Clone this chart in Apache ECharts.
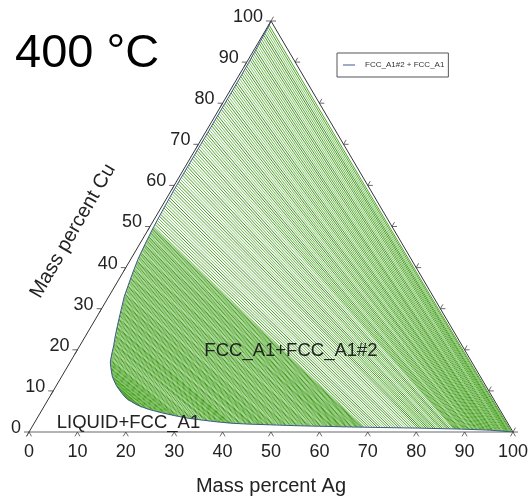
<!DOCTYPE html>
<html>
<head>
<meta charset="utf-8">
<script src="https://cdn.jsdelivr.net/npm/echarts@6/dist/echarts.min.js"></script>
<style>html,body{margin:0;padding:0;background:#fff}#chart{width:531px;height:501px}</style>
</head>
<body>
<div id="chart"></div>
<script>
// ---------------- DATA (mass percent) ----------------
const chartTitle = '400 °C';
const xAxisName = 'Mass percent Ag';
const leftAxisName = 'Mass percent Cu';
const legendName = 'FCC_A1#2 + FCC_A1';
const regionTwoPhase = 'FCC_A1+FCC_A1#2';
const regionLiquid = 'LIQUID+FCC_A1';
const tickValues = [0, 10, 20, 30, 40, 50, 60, 70, 80, 90, 100];

// phase boundary [Ag, Cu]
const boundary = [
  [0,100],[0.12,99],[0.3,95],[0.45,90],[0.5,85],[0.5,80],[0.5,70],[0.5,60],[0.6,55],[0.8,50],
  [1.1,46],[1.5,42],[2.2,38],[3.2,33],[4.5,28.6],[5.3,26],[6.2,23.2],[7.0,21],[7.6,19],[8.3,17],
  [9.3,15.3],[10.6,13.3],[12.5,11.2],[14.5,9.4],[16.5,7.9],[19,6.6],[22,5.5],[25,4.7],[28,4.0],
  [31,3.4],[34.3,2.9],[37.8,2.45],[41.2,2.1],[45,1.9],[49,1.75],[54,1.55],[59.3,1.4],[65,1.25],
  [72,1.1],[80,0.95],[89,0.7],[95,0.45],[100,0]
];

// tie lines [Ag1, Cu1, Ag2, Cu2]
const tiesMain = [
  [15.6,8.5,16.2,8.1],[15.0,9.0,16.5,7.9],[14.4,9.5,16.9,7.65],[13.8,10,17.8,7.2],[13.3,10.5,18.6,6.8],
  [12.7,11,19.5,6.4],[12.2,11.5,20.3,6.0],[11.7,12,21.0,5.85],[11.3,12.5,21.8,5.55],[10.9,13,22.5,5.4],
  [10.5,13.5,23.3,5.2],[10.1,14,24.0,4.95],[9.8,14.5,24.8,4.75],[9.5,15,25.5,4.6],[9.2,15.5,26.3,4.4],
  [8.9,16,26.9,4.25],[8.6,16.5,27.6,4.1],[8.3,17,28.2,3.95],[8.1,17.5,29.0,3.8],[7.9,18,29.8,3.65],
  [7.75,18.5,30.7,3.45],[7.6,19,31.5,3.3],[7.45,19.5,32.4,3.15],[7.3,20,33.2,3.0],[7.15,20.5,34.1,2.9],
  [7.0,21,35.0,2.8],[6.8,21.5,35.7,2.7],[6.6,22,36.4,2.65],[6.45,22.5,37.0,2.55],[6.3,23,37.7,2.45],
  [6.1,23.5,38.3,2.4],[5.95,24,38.9,2.35],[5.8,24.5,39.4,2.3],[5.65,25,40.0,2.2],[5.45,25.5,40.5,2.15],
  [5.3,26,41.0,2.1],[5.15,26.5,41.6,2.08],[5.0,27,42.3,2.05],[4.85,27.5,42.9,2.0],[4.7,28,43.6,1.97],
  [4.55,28.5,44.2,1.94],[4.4,29,44.8,1.9],[4.25,29.5,45.3,1.88],[4.1,30,45.9,1.86],[3.95,30.5,46.5,1.84],
  [3.8,31,47.0,1.82],[3.65,31.5,47.6,1.8],[3.5,32,48.2,1.78],[3.35,32.5,48.7,1.76],[3.2,33,49.3,1.74],
  [3.1,33.5,49.9,1.72],[3.0,34,50.5,1.7],[2.9,34.5,51.2,1.68],[2.8,35,51.8,1.65],[2.7,35.5,52.4,1.63],
  [2.6,36,53.0,1.6],[2.5,36.5,53.6,1.58],[2.4,37,54.3,1.55],[2.3,37.5,54.9,1.53],[2.2,38,55.5,1.5],
  [2.1,38.5,56.1,1.5],[2.0,39,56.7,1.48],[1.95,39.5,57.3,1.46],[1.85,40,57.9,1.44],[1.8,40.5,58.6,1.42],
  [1.7,41,59.2,1.4],[1.6,41.5,59.8,1.39],[1.5,42,60.4,1.37],[1.45,42.5,61.0,1.35],[1.4,43,61.6,1.34],
  [1.35,43.5,62.1,1.33],[1.3,44,62.6,1.31],[1.25,44.5,63.1,1.3],[1.2,45,63.6,1.29],[1.15,45.5,64.1,1.28],
  [1.1,46,64.6,1.26],[1.05,46.5,65.1,1.25],[1.0,47,65.6,1.24],[0.98,47.5,66.2,1.22],[0.95,48,66.7,1.21],
  [0.9,48.5,67.2,1.2],[0.85,49,67.7,1.19],[0.82,49.5,68.2,1.18],[0.8,50,68.7,1.17],[0.75,51,69.8,1.14],
  [0.7,52,70.9,1.12],[0.67,53,72.0,1.1],[0.63,54,73.1,1.08],[0.6,55,74.2,1.06],[0.58,56,75.3,1.04],
  [0.56,57,76.4,1.02],[0.55,58,77.5,1.0],[0.52,59,78.6,0.98],[0.5,60,79.7,0.96],[0.5,61,80.5,0.94],
  [0.5,62,81.2,0.93],[0.5,63,82.0,0.91],[0.5,64,82.7,0.89],[0.5,65,83.5,0.87],[0.5,66,84.3,0.85],
  [0.5,67,85.0,0.83],[0.5,68,85.8,0.81],[0.5,69,86.5,0.79],[0.5,70,87.3,0.77],[0.5,71,87.8,0.75],
  [0.5,72,88.2,0.73],[0.5,73,88.7,0.71],[0.5,74,89.2,0.69],[0.5,75,89.7,0.67],[0.5,76,90.1,0.66],
  [0.5,77,90.6,0.64],[0.5,78,91.1,0.62],[0.5,79,91.5,0.61],[0.5,80,92.0,0.59],[0.5,81,92.4,0.58],
  [0.5,82,92.8,0.56],[0.5,83,93.2,0.55],[0.5,84,93.6,0.53],[0.5,85,94.0,0.51],[0.5,86,94.4,0.49],
  [0.5,87,94.8,0.47],[0.5,88,95.2,0.45],[0.48,89,95.6,0.41],[0.45,90,96.0,0.37],[0.42,91,96.5,0.33],
  [0.4,92,96.9,0.29],[0.37,93,97.4,0.25],[0.35,94,97.8,0.21],[0.3,95,98.3,0.16],[0.3,96,98.6,0.13],
  [0.25,97,99.0,0.09],[0.2,98,99.3,0.06],[0.12,99,99.7,0.03]
];

// additional tie lines between the ones above [Ag1, Cu1, Ag2, Cu2]
const tiesExtra = [
  [15.3,8.75,16.35,8.0],[14.7,9.25,16.7,7.78],[14.1,9.75,17.35,7.43],[13.55,10.25,18.2,7.0],[13.0,10.75,19.05,6.6],
  [12.45,11.25,19.9,6.2],[11.95,11.75,20.65,5.93],[11.5,12.25,21.4,5.7],[11.1,12.75,22.15,5.48],[10.7,13.25,22.9,5.3],
  [10.3,13.75,23.65,5.08],[9.95,14.25,24.4,4.85],[9.65,14.75,25.15,4.68],[9.35,15.25,25.9,4.5],[9.05,15.75,26.6,4.33],
  [8.75,16.25,27.25,4.18],[8.45,16.75,27.9,4.03],[8.2,17.25,28.6,3.88],[8.0,17.75,29.4,3.73],[7.83,18.25,30.25,3.55],
  [7.68,18.75,31.1,3.38],[7.53,19.25,31.95,3.23],[7.38,19.75,32.8,3.08],[7.23,20.25,33.65,2.95],[7.08,20.75,34.55,2.85],
  [6.9,21.25,35.35,2.75],[6.7,21.75,36.05,2.68],[6.53,22.25,36.7,2.6],[6.38,22.75,37.35,2.5],[6.2,23.25,38.0,2.43],
  [6.03,23.75,38.6,2.38],[5.88,24.25,39.15,2.33],[5.73,24.75,39.7,2.25],[5.55,25.25,40.25,2.18],[5.38,25.75,40.75,2.13],
  [5.23,26.25,41.3,2.09],[5.08,26.75,41.95,2.07],[4.93,27.25,42.6,2.03],[4.78,27.75,43.25,1.99],[4.63,28.25,43.9,1.96],
  [4.48,28.75,44.5,1.92],[4.33,29.25,45.05,1.89],[4.18,29.75,45.6,1.87],[4.03,30.25,46.2,1.85],[3.88,30.75,46.75,1.83],
  [3.73,31.25,47.3,1.81],[3.58,31.75,47.9,1.79],[3.43,32.25,48.45,1.77],[3.28,32.75,49.0,1.75],[3.15,33.25,49.6,1.73],
  [3.05,33.75,50.2,1.71],[2.95,34.25,50.85,1.69],[2.85,34.75,51.5,1.67],[2.75,35.25,52.1,1.64],[2.65,35.75,52.7,1.62],
  [2.55,36.25,53.3,1.59],[2.45,36.75,53.95,1.57],[2.35,37.25,54.6,1.54],[2.25,37.75,55.2,1.52],[2.15,38.25,55.8,1.5],
  [2.05,38.75,56.4,1.49],[1.98,39.25,57.0,1.47],[1.9,39.75,57.6,1.45],[1.83,40.25,58.25,1.43],[1.75,40.75,58.9,1.41],
  [1.65,41.25,59.5,1.4],[1.55,41.75,60.1,1.38],[1.48,42.25,60.7,1.36],[1.43,42.75,61.3,1.35],[1.38,43.25,61.85,1.34],
  [1.33,43.75,62.35,1.32],[1.28,44.25,62.85,1.31],[1.23,44.75,63.35,1.3],[1.18,45.25,63.85,1.29],[1.13,45.75,64.35,1.27],
  [1.08,46.25,64.85,1.26],[1.03,46.75,65.35,1.25],[0.99,47.25,65.9,1.23],[0.97,47.75,66.45,1.22],[0.93,48.25,66.95,1.21],
  [0.88,48.75,67.45,1.2],[0.84,49.25,67.95,1.19],[0.81,49.75,68.45,1.18],[0.78,50.5,69.25,1.16],[0.73,51.5,70.35,1.13],
  [0.69,52.5,71.45,1.11],[0.65,53.5,72.55,1.09],[0.62,54.5,73.65,1.07],[0.59,55.5,74.75,1.05],[0.57,56.5,75.85,1.03],
  [0.56,57.5,76.95,1.01],[0.54,58.5,78.05,0.99],[0.51,59.5,79.15,0.97],[0.5,60.5,80.1,0.95],[0.5,61.5,80.85,0.94],
  [0.5,62.5,81.6,0.92],[0.5,63.5,82.35,0.9],[0.5,64.5,83.1,0.88],[0.5,65.5,83.9,0.86],[0.5,66.5,84.65,0.84],
  [0.5,67.5,85.4,0.82],[0.5,68.5,86.15,0.8],[0.5,69.5,86.9,0.78],[0.5,70.5,87.55,0.76],[0.5,71.5,88.0,0.74],
  [0.5,72.5,88.45,0.72],[0.5,73.5,88.95,0.7],[0.5,74.5,89.45,0.68],[0.5,75.5,89.9,0.67],[0.5,76.5,90.35,0.65],
  [0.5,77.5,90.85,0.63],[0.5,78.5,91.3,0.62],[0.5,79.5,91.75,0.6],[0.5,80.5,92.2,0.59],[0.5,81.5,92.6,0.57],
  [0.5,82.5,93.0,0.56],[0.5,83.5,93.4,0.54],[0.5,84.5,93.8,0.52],[0.5,85.5,94.2,0.5],[0.5,86.5,94.6,0.48],
  [0.5,87.5,95.0,0.46],[0.49,88.5,95.4,0.43],[0.47,89.5,95.8,0.39],[0.44,90.5,96.25,0.35],[0.41,91.5,96.7,0.31],
  [0.39,92.5,97.15,0.27],[0.36,93.5,97.6,0.23],[0.33,94.5,98.05,0.19],[0.3,95.5,98.45,0.15],[0.28,96.5,98.8,0.11],
  [0.23,97.5,99.15,0.08],[0.16,98.5,99.5,0.05]
];

// ---------------- RENDER ----------------
const FONT = '"Liberation Sans", Arial, Helvetica, sans-serif';
const S3 = Math.sqrt(3) / 2;
function tern(ag, cu) { return [ag + cu / 2, cu * S3]; }

const chart = echarts.init(document.getElementById('chart'), null, {renderer: 'canvas'});

const tieColors = ['#44a01e', '#62b33e', '#3a9216', '#78c058'];
const allTies = tiesMain.concat(tiesExtra);

const option = {
  backgroundColor: '#fff',
  animation: false,
  textStyle: {fontFamily: FONT},
  grid: {left: 29, top: 21, width: 484, height: 419, containLabel: false},
  xAxis: {
    type: 'value', min: 0, max: 100, interval: 10,
    axisLine: {show: true, lineStyle: {color: '#9a9a9a', width: 1.5}},
    axisTick: {show: false}, splitLine: {show: false},
    axisLabel: {fontSize: 18, color: '#222', margin: 11, fontFamily: FONT},
    name: xAxisName, nameLocation: 'middle', nameGap: 44,
    nameTextStyle: {fontSize: 20, color: '#222', fontFamily: FONT}
  },
  yAxis: {type: 'value', min: 0, max: 100 * S3, show: false},
  legend: {
    show: true, data: [{name: legendName, icon: 'rect'}],
    left: 337, top: 53, itemWidth: 12, itemHeight: 1, padding: [8, 4, 8, 6],
    borderColor: '#555', borderWidth: 1, backgroundColor: '#fff',
    textStyle: {fontSize: 8, color: '#333', fontFamily: FONT, padding: [0, 0, 0, 5]},
    selectedMode: false
  },
  graphic: [
    {type: 'text', left: 15, top: 31, style: {text: chartTitle, fontSize: 47, fill: '#000', font: '47px ' + FONT}},
    {type: 'text', x: 291, y: 351, style: {text: regionTwoPhase, fontSize: 18.5, fill: '#222', fontFamily: FONT, align: 'center', verticalAlign: 'middle', textAlign: 'center', textVerticalAlign: 'middle'}, z: 100},
    {type: 'text', x: 128.5, y: 423, style: {text: regionLiquid, fontSize: 18.5, fill: '#222', fontFamily: FONT, align: 'center', verticalAlign: 'middle', textAlign: 'center', textVerticalAlign: 'middle'}, z: 100},
    {type: 'text', x: 73, y: 231, rotation: Math.PI / 3, style: {text: leftAxisName, fontSize: 20, fill: '#222', fontFamily: FONT, align: 'center', verticalAlign: 'middle', textAlign: 'center', textVerticalAlign: 'middle'}}
  ],
  series: [
    {
      type: 'line', name: 'frame', silent: true, symbol: 'none', showSymbol: false, z: 1,
      data: [tern(100, 0), tern(0, 100), tern(0, 0)],
      lineStyle: {color: '#333', width: 1}
    },
    {
      type: 'lines', name: 'ties', coordinateSystem: 'cartesian2d', silent: true, z: 2,
      data: allTies.map((t, i) => ({
        coords: [tern(t[0], t[1]), tern(t[2], t[3])],
        lineStyle: {color: tieColors[i % tieColors.length]}
      })),
      lineStyle: {width: 1, opacity: 0.95, color: '#4ea42a'}
    },
    {
      type: 'line', name: legendName, silent: true, symbol: 'none', showSymbol: false, z: 3,
      color: '#3d5a8a',
      data: boundary.map(p => tern(p[0], p[1])),
      lineStyle: {color: '#3d5a8a', width: 1}
    },
    {
      type: 'custom', name: 'ticks', coordinateSystem: 'cartesian2d', silent: true, clip: false, z: 4,
      data: tickValues.map(v => [v, 0]),
      renderItem: function (params, api) {
        const v = api.value(0);
        const L = 5;
        const pts = [
          {p: api.coord(tern(v, 0)), a: [240, 300]},
          {p: api.coord(tern(0, v)), a: [180, 240]},
          {p: api.coord(tern(100 - v, v)), a: [0, 60]}
        ];
        const children = [];
        pts.forEach(o => o.a.forEach(deg => {
          const r = deg * Math.PI / 180;
          children.push({type: 'line', shape: {x1: o.p[0], y1: o.p[1], x2: o.p[0] + L * Math.cos(r), y2: o.p[1] - L * Math.sin(r)},
            style: {stroke: '#444', lineWidth: 0.8}});
        }));
        const lp = pts[1].p;
        children.push({type: 'text', x: lp[0] - 8, y: lp[1] - 4,
          style: {text: String(v), fontSize: 18, fill: '#222', fontFamily: FONT, align: 'right', verticalAlign: 'middle', textAlign: 'right', textVerticalAlign: 'middle'}});
        return {type: 'group', children: children};
      }
    }
  ]
};
chart.setOption(option);
</script>
</body>
</html>
